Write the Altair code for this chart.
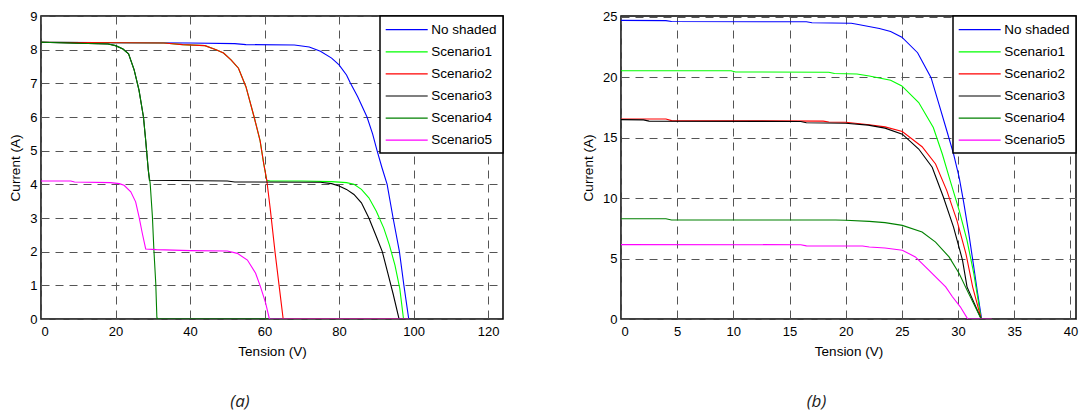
import altair as alt
import pandas as pd

SERIES = ["No shaded", "Scenario1", "Scenario2", "Scenario3", "Scenario4", "Scenario5"]
COLORS = ["#0000FF", "#00FF00", "#FF0000", "#000000", "#008000", "#FF00FF"]

# ---------------- panel (a) ----------------
a_ns_v = [0, 15, 40, 52, 55, 68, 72, 75, 78, 80, 82, 83, 85, 87.5, 89, 90.2, 91.5, 92.9, 94.5, 96.2, 97.4, 98.7]
a_ns_i = [8.22, 8.21, 8.2, 8.18, 8.15, 8.14, 8.08, 7.95, 7.75, 7.55, 7.25, 7.02, 6.6, 6.0, 5.5, 5.0, 4.5, 4.0, 3.0, 2.0, 1.0, 0]

a_s1_v = [0, 33, 38, 44, 47, 49, 51, 53, 55, 57.2, 58.8, 59.8, 60.6, 61.5, 70, 78, 82, 84, 86, 88, 90, 92, 93.5, 95, 96.3, 97.3, 98.7]
a_s1_i = [8.22, 8.2, 8.15, 8.12, 8.0, 7.9, 7.7, 7.45, 6.9, 6.0, 5.3, 4.6, 4.12, 4.1, 4.1, 4.08, 4.05, 4.0, 3.85, 3.6, 3.2, 2.7, 2.2, 1.6, 0.9, 0, 0]

a_s2_v = [0, 33, 38, 44, 47, 49, 51, 53, 55, 57.2, 58.8, 59.8, 60.6, 61.5, 62.8, 63.9, 65.0, 98.7]
a_s2_i = [8.22, 8.2, 8.15, 8.12, 8.0, 7.9, 7.7, 7.45, 6.9, 6.0, 5.3, 4.6, 4.12, 3.3, 2.0, 1.0, 0, 0]

a_s3_v = [0, 10, 18, 20, 22, 23.5, 25, 26.3, 27.5, 28.1, 28.8, 29.1, 50, 52, 75, 78, 80, 82, 84, 86, 88, 90, 91.6, 93, 94.5, 96.1, 98.7]
a_s3_i = [8.22, 8.19, 8.17, 8.12, 8.02, 7.88, 7.4, 6.8, 6.0, 5.3, 4.42, 4.12, 4.1, 4.07, 4.06, 4.02, 3.95, 3.85, 3.7, 3.45, 3.0, 2.45, 2.0, 1.4, 0.75, 0, 0]

a_s4_v = [0, 10, 18, 20, 22, 23.5, 25, 26.3, 27.5, 28.1, 28.8, 29.3, 29.9, 30.3, 30.8, 31.1, 31.3, 98.7]
a_s4_i = [8.22, 8.19, 8.17, 8.12, 8.02, 7.88, 7.4, 6.8, 6.0, 5.3, 4.42, 4.03, 3.04, 2.05, 1.06, 0.05, 0, 0]

a_s5_v = [0, 8, 9, 18.7, 21, 22.3, 24.1, 25.4, 26.3, 27.2, 28.1, 31, 40, 50, 52.7, 55.4, 57.6, 58.9, 60.3, 61.3, 98.7]
a_s5_i = [4.1, 4.1, 4.07, 4.05, 4.02, 3.97, 3.78, 3.48, 3.04, 2.54, 2.08, 2.06, 2.03, 2.02, 1.95, 1.75, 1.36, 0.96, 0.47, 0, 0]

# ---------------- panel (b) ----------------
b_ns_v = [0, 4, 4.5, 16.5, 17, 20.5, 21, 23, 24, 25, 26.4, 27.6, 28.3, 29.0, 29.6, 30.1, 30.5, 30.96, 31.4, 31.7, 32.1, 33]
b_ns_i = [24.72, 24.7, 24.62, 24.6, 24.52, 24.48, 24.4, 24.05, 23.8, 23.33, 22.04, 19.98, 17.78, 15.58, 13.66, 11.73, 9.67, 7.07, 4.31, 2.39, 0, 0]

b_s1_v = [0, 9.8, 10.2, 18.5, 19, 21, 22.1, 24, 25, 26.5, 27.8, 28.6, 29.3, 30.1, 30.8, 31.4, 32.06, 33]
b_s1_i = [20.55, 20.55, 20.45, 20.42, 20.32, 20.28, 20.12, 19.76, 19.29, 17.92, 15.85, 13.66, 11.46, 8.99, 6.51, 3.77, 0, 0]

b_s2_v = [0, 4, 4.5, 18, 18.5, 20, 22.1, 23.5, 25.04, 26.8, 28.0, 29.0, 29.9, 30.7, 31.3, 32.06, 33]
b_s2_i = [16.55, 16.55, 16.42, 16.38, 16.3, 16.28, 16.08, 15.9, 15.52, 14.26, 12.83, 10.63, 8.16, 5.42, 2.66, 0, 0]

b_s3_v = [0, 2, 2.5, 16, 16.5, 20, 22, 23.5, 25.04, 26.5, 27.7, 28.7, 29.6, 30.4, 30.8, 32.06, 33]
b_s3_i = [16.5, 16.48, 16.38, 16.35, 16.25, 16.2, 16.05, 15.8, 15.3, 14.07, 12.56, 10.08, 7.61, 4.86, 2.66, 0, 0]

b_s4_v = [0, 4, 4.5, 19.1, 20, 22.1, 23.5, 25.04, 26.8, 28.0, 29.2, 30.1, 30.8, 32.06, 33]
b_s4_i = [8.3, 8.3, 8.2, 8.2, 8.18, 8.08, 7.98, 7.75, 7.2, 6.37, 5.14, 3.77, 2.39, 0, 0]

b_s5_v = [0, 16, 16.5, 21.5, 22.1, 23.5, 25.04, 26.2, 27.4, 28.9, 29.5, 30.2, 30.8, 30.9, 33]
b_s5_i = [6.16, 6.15, 6.05, 6.04, 5.96, 5.88, 5.69, 5.14, 4.04, 2.66, 1.84, 1.01, 0.1, 0, 0]

A_X_TICKS = [0, 20, 40, 60, 80, 100, 120]
A_Y_TICKS = [0, 1, 2, 3, 4, 5, 6, 7, 8, 9]
B_X_TICKS = [0, 5, 10, 15, 20, 25, 30, 35, 40]
B_Y_TICKS = [0, 5, 10, 15, 20, 25]


def make_df(pairs):
    rows = []
    for name, (vs, cs) in zip(SERIES, pairs):
        for k, (v, c) in enumerate(zip(vs, cs)):
            rows.append({"series": name, "k": k, "v": v, "i": c})
    return pd.DataFrame(rows)


df_a = make_df([(a_ns_v, a_ns_i), (a_s1_v, a_s1_i), (a_s2_v, a_s2_i),
                (a_s3_v, a_s3_i), (a_s4_v, a_s4_i), (a_s5_v, a_s5_i)])
df_b = make_df([(b_ns_v, b_ns_i), (b_s1_v, b_s1_i), (b_s2_v, b_s2_i),
                (b_s3_v, b_s3_i), (b_s4_v, b_s4_i), (b_s5_v, b_s5_i)])

FONT = "Liberation Sans"


def panel(df, xdom, ydom, xticks, yticks, label, width):
    legend = alt.Legend(
        title=None, orient="top-right", offset=0,
        symbolType="M-3,0H3", symbolSize=196, symbolStrokeWidth=1.2,
        symbolOffset=13, labelOffset=16.6, padding=5.7, rowPadding=7.1,
        labelFontSize=13.5, labelFont=FONT, labelColor="black",
        strokeColor="black", fillColor="white",
    )
    layers = []
    for s in SERIES:
        layers.append(
            alt.Chart(df).transform_filter(alt.datum.series == s)
            .mark_line(strokeWidth=1.1, clip=True)
            .encode(
                x=alt.X("v:Q", title="Tension (V)",
                        scale=alt.Scale(domain=xdom, nice=False, zero=False),
                        axis=alt.Axis(values=xticks, format="d")),
                y=alt.Y("i:Q", title="Current (A)",
                        scale=alt.Scale(domain=ydom, nice=False, zero=False),
                        axis=alt.Axis(values=yticks, format="d")),
                color=alt.Color("series:N",
                                scale=alt.Scale(domain=SERIES, range=COLORS),
                                legend=legend),
                order="k:Q",
            )
        )
    return alt.layer(*layers).properties(
        width=width, height=303,
        title=alt.TitleParams(
            text=label, orient="bottom", anchor="middle", frame="group",
            dx=-32, offset=36, font="Open Sans", fontStyle="italic",
            fontSize=17, fontWeight="normal", color="#222222",
        ),
    )


left = panel(df_a, [0, 124], [0, 9], A_X_TICKS, A_Y_TICKS, "(a)", 462)
right = panel(df_b, [0, 40.5], [0, 25.08], B_X_TICKS, B_Y_TICKS, "(b)", 455)

chart = (
    alt.hconcat(left, right, spacing=75)
    .resolve_scale(color="independent", x="independent", y="independent")
    .resolve_legend(color="independent")
    .properties(padding={"left": 0, "top": 1, "right": 0, "bottom": 0})
    .configure_view(stroke="black", strokeWidth=1.5)
    .configure_axis(
        domain=False, ticks=False, grid=True, gridColor="#555555",
        gridDash=[8, 6], gridWidth=1, gridOpacity=1,
        labelFont=FONT, labelFontSize=13, labelColor="black",
        titleFont=FONT, titleFontSize=13.5, titleFontWeight="normal",
        titleColor="black",
    )
    .configure_axisX(labelPadding=6, titlePadding=6)
    .configure_axisY(labelPadding=4, titlePadding=7)
    .configure_legend(strokeWidth=1.5)
)

chart.save("out.html", embed_options={"renderer": "svg", "actions": False})
